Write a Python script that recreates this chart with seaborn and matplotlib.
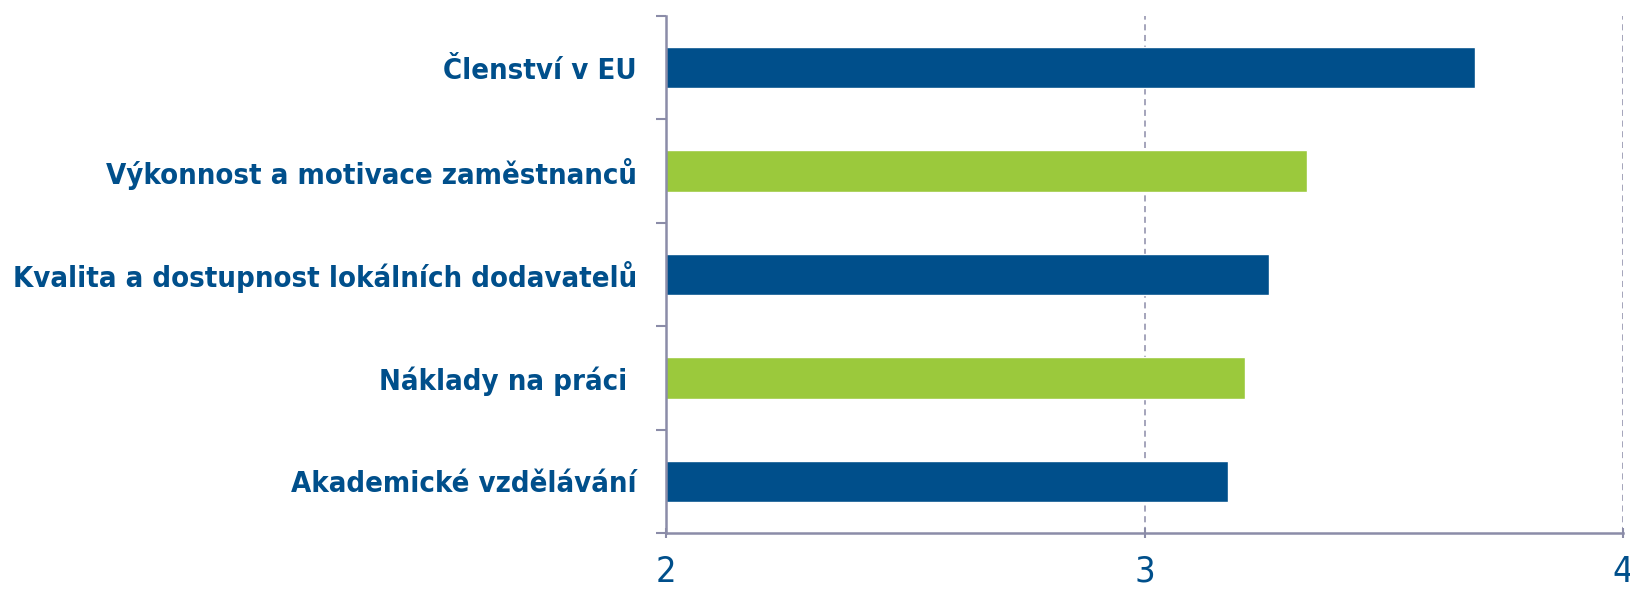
import matplotlib
matplotlib.use("Agg")
import matplotlib.pyplot as plt
from matplotlib import font_manager
import seaborn as sns
import pandas as pd

# data
categories = ["Členství v EU", "Výkonnost a motivace zaměstnanců",
              "Kvalita a dostupnost lokálních dodavatelů", "Náklady na práci ",
              "Akademické vzdělávání"]
values = [3.69, 3.34, 3.26, 3.21, 3.175]
bar_colors = ["#004f8b", "#9bc93c", "#004f8b", "#9bc93c", "#004f8b"]
xticks = [2, 3, 4]

blue = "#004f8b"
axis_col = "#8b8ca8"

sns.set_theme(style="white")
plt.rcParams['font.family'] = ['DejaVu Sans']

# look for a narrow face, the reference labels are condensed
names = set((f.name, f.stretch) for f in font_manager.fontManager.ttflist)
if any(n == 'Liberation Sans Narrow' for n, s in names):
    label_family, label_stretch, label_size = 'Liberation Sans Narrow', 'normal', 22
elif ('DejaVu Sans', 'condensed') in names or ('DejaVu Sans', 'semi-condensed') in names:
    label_family, label_stretch, label_size = 'DejaVu Sans', 'condensed', 21
else:
    label_family, label_stretch, label_size = 'DejaVu Sans', 'normal', 17.5

df = pd.DataFrame({"cat": categories, "val": values})

fig = plt.figure(figsize=(16.3, 5.91), dpi=100)
ax = fig.add_axes([666/1630, 1-533/591, (1623-666)/1630, (533-16)/591])

sns.barplot(data=df, x="val", y="cat", hue="cat", palette=bar_colors,
            width=0.4, legend=False, ax=ax, saturation=1, orient="h")

ax.set_xlim(2, 4)
ax.set_ylim(len(categories)-0.5, -0.5)
ax.set_xlabel("")
ax.set_ylabel("")

# dashed grid
for x in xticks[1:]:
    ax.axvline(x, color=axis_col, linestyle=(0, (4, 3)), linewidth=1.1, zorder=0)

# y ticks sit between categories, labels go on minor ticks
ax.set_yticks([i - 0.5 for i in range(len(categories)+1)])
ax.set_yticklabels([])
ax.set_yticks(range(len(categories)), minor=True)
ax.set_yticklabels(categories, minor=True, fontsize=label_size, fontweight="bold",
                   color=blue, family=label_family, fontstretch=label_stretch)
ax.tick_params(axis="y", which="minor", length=0, pad=21)
ax.tick_params(axis="y", which="major", length=7, width=1.5, color=axis_col, direction="out", left=True)

ax.set_xticks(xticks)
ax.set_xticklabels([str(t) for t in xticks], fontsize=26, color=blue,
                   family=label_family, fontstretch=label_stretch)
ax.tick_params(axis="x", length=7, width=1.5, color=axis_col, direction="inout", pad=12, bottom=True)

for s in ["top", "right"]:
    ax.spines[s].set_visible(False)
for s in ["left", "bottom"]:
    ax.spines[s].set_color(axis_col)
    ax.spines[s].set_linewidth(1.8)

fig.savefig("out.png", dpi=100)
